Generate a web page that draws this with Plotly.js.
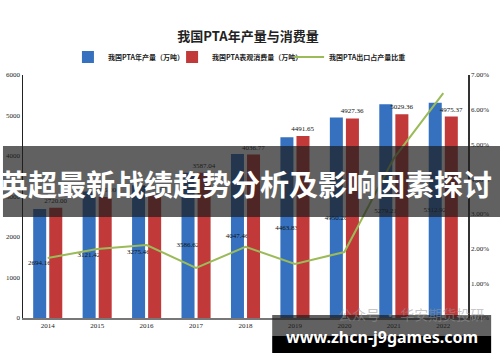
<!DOCTYPE html>
<html><head><meta charset="utf-8">
<script src="https://cdn.plot.ly/plotly-3.0.1.min.js"></script>
<style>html,body{margin:0;padding:0;background:#fff}#chart{width:500px;height:362px}</style>
</head><body><div id="chart"></div>
<script>
const years = ['2014','2015','2016','2017','2018','2019','2020','2021','2022'];
const production = [2694.16,3121.42,3275.46,3586.62,4047.46,4463.83,4950.26,5279.21,5312.92];
const consumption = [2720.00,2985.00,3045.00,3587.04,4036.77,4491.65,4927.36,5029.36,4975.37];
const exportShare = [1.73,1.99,2.10,1.44,2.05,1.56,1.90,4.60,6.48];
const seriesNames = ['我国PTA年产量（万吨）','我国PTA表观消费量（万吨）','我国PTA出口占产量比重'];
const chartTitle = '我国PTA年产量与消费量';
const bannerText = '英超最新战绩趋势分析及影响因素探讨';
const watermarkText = 'www.zhcn-j9games.com';
const sourceText = '公众号 · 华安期货投研';

const serif = 'Liberation Serif, DejaVu Serif, serif';
const cjk = 'Noto Sans CJK SC, sans-serif';

const traces = [
  {type:'bar', name:seriesNames[0], x:years, y:production, legend:'legend',
   marker:{color:'#3571bf'},
   text:production.map(v=>v.toFixed(2)), textposition:'inside', insidetextanchor:'middle',
   constraintext:'none', textangle:0, textfont:{family:serif,size:7,color:'#111'}, cliponaxis:false},
  {type:'bar', name:seriesNames[1], x:years, y:consumption, legend:'legend2',
   marker:{color:'#c2393a'},
   text:consumption.map(v=>v.toFixed(2)), textposition:'outside',
   constraintext:'none', textangle:0, textfont:{family:serif,size:7,color:'#111'}, cliponaxis:false},
  {type:'scatter', mode:'lines', name:seriesNames[2], x:years, y:exportShare, yaxis:'y2', legend:'legend3',
   line:{color:'#9bbb59', width:2}}
];

function legendAt(x) {
  return {orientation:'h', x:x, xanchor:'left', y:1.074, yanchor:'middle',
          font:{family:cjk, size:7, color:'#222', weight:'bold'}, itemwidth:30,
          bgcolor:'rgba(0,0,0,0)'};
}

const layout = {
  width:500, height:362,
  margin:{l:23, r:32, t:75, b:44},
  paper_bgcolor:'#fff', plot_bgcolor:'#fff',
  bargap:0.35, bargroupgap:0.19, barmode:'group',
  title:{text:chartTitle, x:0.496, xref:'container', y:0.898, yanchor:'middle',
         font:{family:cjk, size:13, color:'#222', weight:'bold'}},
  showlegend:true,
  legend:legendAt(0.101),
  legend2:legendAt(0.335),
  legend3:legendAt(0.598),
  xaxis:{type:'category', showgrid:false, zeroline:false, ticks:'', showline:true,
         linecolor:'#777', linewidth:1.5,
         tickfont:{family:serif, size:7, color:'#222'}},
  yaxis:{range:[0,6000], dtick:1000, showgrid:false, zeroline:false, showline:true,
         linecolor:'#222', linewidth:1.5, ticks:'',
         tickfont:{family:serif, size:7, color:'#222'}},
  yaxis2:{overlaying:'y', side:'right', range:[0,7], dtick:1, tickformat:'.2f', ticksuffix:'%',
          showgrid:false, zeroline:false, showline:true, linecolor:'#333', linewidth:1.5, ticks:'',
          tickfont:{family:serif, size:7, color:'#222'}},
  shapes:[
    {type:'rect', xref:'paper', yref:'paper', x0:-0.045, x1:1.075, y0:0.416, y1:0.708,
     fillcolor:'rgba(30,30,30,0.7)', line:{width:0}, layer:'above'},
    {type:'rect', xref:'paper', yref:'paper', x0:0.56, x1:1.052, y0:-0.074, y1:0.012,
     fillcolor:'rgba(30,30,30,0.7)', line:{width:0}, layer:'above'},
    {type:'rect', xref:'paper', yref:'paper', x0:0.56, x1:1.052, y0:-0.144, y1:-0.074,
     fillcolor:'#000', line:{width:0}, layer:'above'}
  ],
  annotations:[
    {text:sourceText, xref:'paper', yref:'paper', x:0.872, y:0.017, xanchor:'center', yanchor:'middle',
     showarrow:false, font:{family:cjk, size:14, color:'rgba(150,150,150,0.55)'}},
    {text:bannerText, xref:'paper', yref:'paper', x:0.5, y:0.555, xanchor:'center', yanchor:'middle',
     showarrow:false, font:{family:cjk, size:29, color:'#fff', weight:'bold'}},
    {text:watermarkText, xref:'paper', yref:'paper', x:0.806, y:-0.078, xanchor:'center', yanchor:'middle',
     showarrow:false, font:{family:'Noto Sans, sans-serif', size:16, color:'#fff', weight:'bold'}}
  ]
};

Plotly.newPlot('chart', traces, layout, {displayModeBar:false, staticPlot:true});
</script></body></html>
